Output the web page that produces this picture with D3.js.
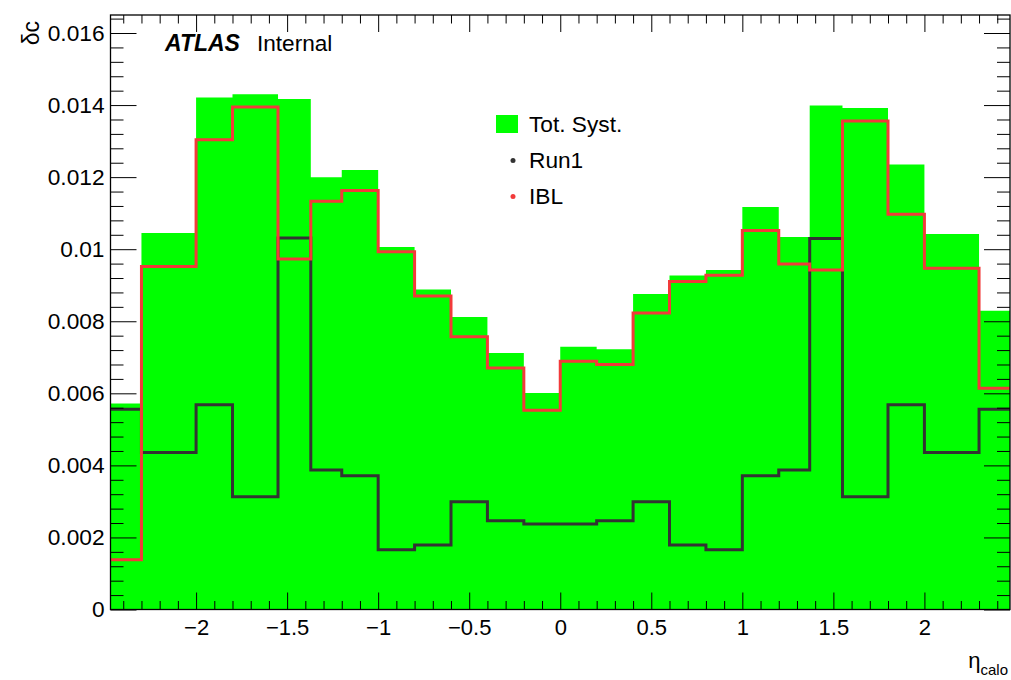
<!DOCTYPE html>
<html>
<head>
<meta charset="utf-8">
<script src="https://cdn.jsdelivr.net/npm/d3@7"></script>
<style>
  html, body { margin: 0; padding: 0; background: #fff; }
  svg { display: block; font-family: "Liberation Sans", Arial, Helvetica, sans-serif; }
</style>
</head>
<body>
<svg id="chart" width="1011" height="680"></svg>
<script>
// ---- data ----
const binEdges = [-2.47, -2.3, -2.0, -1.8, -1.55, -1.37, -1.2, -1.0, -0.8, -0.6, -0.4, -0.2, 0,
                  0.2, 0.4, 0.6, 0.8, 1.0, 1.2, 1.37, 1.55, 1.8, 2.0, 2.3, 2.47];
const totSyst = [0.00572, 0.01045, 0.01421, 0.01430, 0.01417, 0.01200, 0.01220, 0.01006, 0.00888, 0.00812, 0.00712, 0.00601,
                 0.00729, 0.00722, 0.00876, 0.00927, 0.00942, 0.01117, 0.01034, 0.01399, 0.01392, 0.01235, 0.01042, 0.00829];
const run1 =    [0.00556, 0.00436, 0.00568, 0.00313, 0.01031, 0.00387, 0.00371, 0.00166, 0.00179, 0.00299, 0.00246, 0.00237,
                 0.00237, 0.00246, 0.00299, 0.00179, 0.00166, 0.00371, 0.00387, 0.01030, 0.00313, 0.00568, 0.00436, 0.00556];
const ibl =     [0.00138, 0.00952, 0.01304, 0.01395, 0.00973, 0.01133, 0.01163, 0.00993, 0.00870, 0.00757, 0.00670, 0.00553,
                 0.00689, 0.00680, 0.00823, 0.00910, 0.00928, 0.01052, 0.00959, 0.00942, 0.01356, 0.01097, 0.00947, 0.00614];
const xMajorTicks = [-2, -1.5, -1, -0.5, 0, 0.5, 1, 1.5, 2];
const yMajorTicks = [0, 0.002, 0.004, 0.006, 0.008, 0.01, 0.012, 0.014, 0.016];
const legendLabels = ["Tot. Syst.", "Run1", "IBL"];

// ---- layout ----
const L = 110.5, R = 1010, T = 15, B = 609.5;
const svg = d3.select("#chart");
const x = d3.scaleLinear().domain([-2.47, 2.47]).range([L, R]);
const y = d3.scaleLinear().domain([0, 0.0165]).range([B, T]);

const GREEN = "#00ff00", RED = "#f23a3a", DARK = "#333333";

function stepPoints(vals) {
  const pts = [];
  vals.forEach((v, i) => { pts.push([binEdges[i], v]); pts.push([binEdges[i + 1], v]); });
  return pts;
}

// green filled histogram (single area, no seams)
svg.append("path")
  .attr("d", d3.area().x(d => x(d[0])).y0(y(0)).y1(d => y(d[1]))(stepPoints(totSyst)))
  .attr("fill", GREEN);

// step lines
const line = d3.line().x(d => x(d[0])).y(d => y(d[1]));
svg.append("path").attr("d", line(stepPoints(run1))).attr("fill", "none")
  .attr("stroke", DARK).attr("stroke-width", 3).attr("stroke-linejoin", "miter");
svg.append("path").attr("d", line(stepPoints(ibl))).attr("fill", "none")
  .attr("stroke", RED).attr("stroke-width", 3).attr("stroke-linejoin", "miter");

// ---- axes ----
const xMinor = d3.range(-24, 25).map(i => i / 10).filter(v => !xMajorTicks.some(m => Math.abs(m - v) < 1e-9));
const yMinor = d3.range(0, 42).map(i => i * 0.0004).filter(v => v <= 0.0165 && !yMajorTicks.some(m => Math.abs(m - v) < 1e-9));

const fmtX = d => (d < 0 ? "\u2212" + Math.abs(d) : String(d));
const fmtY = d => (d === 0 ? "0" : String(+d.toFixed(3)));

function styleAxis(g) {
  g.select(".domain").remove();
  g.selectAll(".tick line").attr("stroke", "#000").attr("stroke-width", 1);
  g.selectAll("text").attr("fill", "#000");
}

// bottom
svg.append("g").attr("transform", `translate(0,${B})`)
  .call(d3.axisBottom(x).tickValues(xMajorTicks).tickSize(-17).tickPadding(10).tickFormat(fmtX))
  .call(styleAxis).selectAll("text").style("font-size", "22px").style("font-family", "'Liberation Sans', Arial, sans-serif");
svg.append("g").attr("transform", `translate(0,${B})`)
  .call(d3.axisBottom(x).tickValues(xMinor).tickSize(-8.5).tickFormat(""))
  .call(styleAxis);
// top
svg.append("g").attr("transform", `translate(0,${T})`)
  .call(d3.axisTop(x).tickValues(xMajorTicks).tickSize(-17).tickFormat(""))
  .call(styleAxis);
svg.append("g").attr("transform", `translate(0,${T})`)
  .call(d3.axisTop(x).tickValues(xMinor).tickSize(-8.5).tickFormat(""))
  .call(styleAxis);
// left
svg.append("g").attr("transform", `translate(${L},0)`)
  .call(d3.axisLeft(y).tickValues(yMajorTicks).tickSize(-26).tickPadding(6).tickFormat(fmtY))
  .call(styleAxis).selectAll("text").style("font-size", "22.7px").style("font-family", "'Liberation Sans', Arial, sans-serif");
svg.append("g").attr("transform", `translate(${L},0)`)
  .call(d3.axisLeft(y).tickValues(yMinor).tickSize(-13).tickFormat(""))
  .call(styleAxis);
// right
svg.append("g").attr("transform", `translate(${R},0)`)
  .call(d3.axisRight(y).tickValues(yMajorTicks).tickSize(-26).tickFormat(""))
  .call(styleAxis);
svg.append("g").attr("transform", `translate(${R},0)`)
  .call(d3.axisRight(y).tickValues(yMinor).tickSize(-13).tickFormat(""))
  .call(styleAxis);

// frame
svg.append("rect").attr("x", L).attr("y", T).attr("width", R - L).attr("height", B - T)
  .attr("fill", "none").attr("stroke", "#000").attr("stroke-width", 1.3);

// axis titles
svg.append("text").attr("transform", "translate(39,21) rotate(-90)")
  .attr("text-anchor", "end").style("font-size", "23px").text("\u03b4c");
const xt = svg.append("text").attr("x", 1008).attr("y", 668).attr("text-anchor", "end").style("font-size", "22px");
xt.append("tspan").text("\u03b7");
xt.append("tspan").attr("dy", 7).style("font-size", "15px").text("calo");

// ATLAS Internal
svg.append("text").attr("x", 165).attr("y", 51).style("font-size", "23px")
  .style("font-weight", "bold").style("font-style", "italic").text("ATLAS");
svg.append("text").attr("x", 257).attr("y", 51).style("font-size", "22.6px").text("Internal");

// legend
const lg = svg.append("g");
lg.append("rect").attr("x", 496).attr("y", 115).attr("width", 22).attr("height", 18).attr("fill", GREEN);
lg.append("circle").attr("cx", 513).attr("cy", 160.5).attr("r", 2.5).attr("fill", DARK);
lg.append("circle").attr("cx", 513).attr("cy", 196.5).attr("r", 2.5).attr("fill", RED);
const legendY = [132, 168, 204];
legendLabels.forEach((t, i) => {
  lg.append("text").attr("x", 529).attr("y", legendY[i]).style("font-size", "22.7px").text(t);
});
</script>
</body>
</html>
